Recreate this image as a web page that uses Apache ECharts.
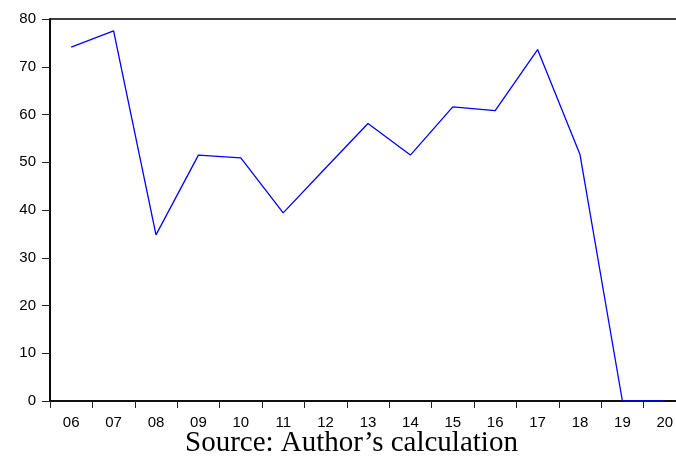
<!DOCTYPE html>
<html>
<head>
<meta charset="utf-8">
<script src="https://cdn.jsdelivr.net/npm/echarts@6/dist/echarts.min.js"></script>
<style>
html,body{margin:0;padding:0;background:#fff;}
#chart{width:676px;height:461px;}
</style>
</head>
<body>
<div id="chart"></div>
<script>
const categories = ['06','07','08','09','10','11','12','13','14','15','16','17','18','19','20'];
const values = [74.1, 77.5, 34.8, 51.5, 50.9, 39.4, 48.8, 58.1, 51.5, 61.6, 60.8, 73.6, 51.6, 0, 0];
const yTicks = { min: 0, max: 80, interval: 10 };
const sourceText = 'Source: Author\u2019s calculation';

const chart = echarts.init(document.getElementById('chart'), null, { renderer: 'canvas' });
chart.setOption({
  animation: false,
  backgroundColor: '#fff',
  grid: {
    left: 50, top: 19, right: -10, height: 382,
    outerBoundsMode: 'none',
    containLabel: false,
    show: true, borderColor: '#000', borderWidth: 1.6, backgroundColor: 'transparent'
  },
  xAxis: {
    type: 'category',
    data: categories,
    boundaryGap: true,
    axisLine: { lineStyle: { color: '#000', width: 1.6 } },
    axisTick: { show: true, inside: false, length: 7, lineStyle: { color: '#222', width: 1 } },
    axisLabel: { color: '#000', fontFamily: 'Liberation Sans, Arial', fontSize: 15, margin: 14 },
    splitLine: { show: false }
  },
  yAxis: {
    type: 'value',
    min: yTicks.min, max: yTicks.max, interval: yTicks.interval,
    axisLine: { show: true, lineStyle: { color: '#000', width: 1.6 } },
    axisTick: { show: true, inside: false, length: 8, lineStyle: { color: '#222', width: 1 } },
    axisLabel: { color: '#000', fontFamily: 'Liberation Sans, Arial', fontSize: 15, margin: 14 },
    splitLine: { show: false }
  },
  graphic: [{
    type: 'text',
    left: 185,
    top: 429,
    style: {
      text: sourceText,
      fill: '#000',
      font: '29px "Liberation Serif", "Times New Roman", serif'
    }
  }],
  series: [{
    type: 'line',
    data: values,
    symbol: 'none',
    lineStyle: { color: '#0000ff', width: 1.3 },
    clip: false
  }]
});
</script>
</body>
</html>
